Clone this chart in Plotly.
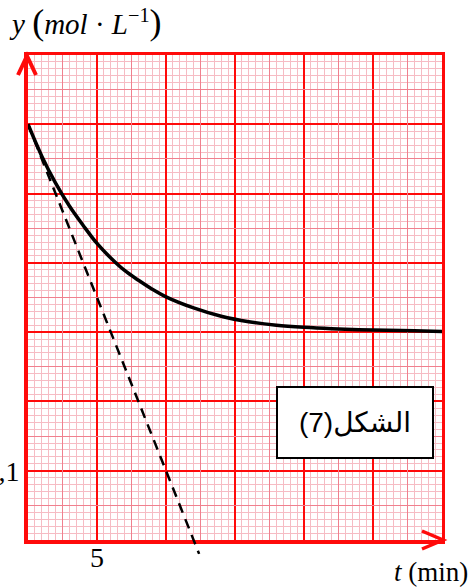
import plotly.graph_objects as go

# ---- data ----
t_curve = [0, 1, 2, 3, 4, 5, 6, 7, 8, 9, 10, 12, 14, 16, 18, 20, 22, 25, 28, 30]
y_curve = [0.600, 0.554, 0.515, 0.482, 0.454, 0.428, 0.407, 0.389, 0.375, 0.362,
           0.351, 0.335, 0.323, 0.315, 0.310, 0.307, 0.305, 0.303, 0.302, 0.301]
t_tangent = [0, 12.4]
y_tangent = [0.6, -0.02]

x_major = [0, 5, 10, 15, 20, 25, 30]
x_major_text = ["", "5", "", "", "", "", ""]
x_medium = [2.5, 7.5, 12.5, 17.5, 22.5, 27.5]
y_major = [0, 0.1, 0.2, 0.3, 0.4, 0.5, 0.6, 0.7]
y_major_text = ["", "0,1", "", "", "", "", "", ""]
y_medium = [0.05, 0.15, 0.25, 0.35, 0.45, 0.55, 0.65]

# ---- geometry ----
W, H = 471, 587
ML, MR, MT, MB = 28, 29, 55, 30
axis_bottom_px = 540
plot_h = H - MT - MB
y_dom0 = (H - MB - axis_bottom_px) / plot_h
y2_low = -0.7 * (H - MB - axis_bottom_px) / (axis_bottom_px - MT)

RED = "#ff0a0a"
MINOR = "#f6bcc4"
MEDIUM = "#f0808e"

def px(x):
    return (x - ML) / (W - ML - MR)

def py(y):
    return (H - MB - y) / plot_h

fig = go.Figure()

# empty trace so the medium-grid / border overlay axes exist
fig.add_trace(go.Scatter(x=[], y=[], mode="lines", xaxis="x3", yaxis="y3",
                         hoverinfo="skip", showlegend=False))
fig.add_trace(go.Scatter(x=t_curve, y=y_curve, mode="lines",
                         line=dict(color="black", width=3.5, shape="spline"),
                         xaxis="x", yaxis="y", hoverinfo="skip", showlegend=False))
fig.add_trace(go.Scatter(x=t_tangent, y=y_tangent, mode="lines",
                         line=dict(color="black", width=2.5, dash="10px,7px"),
                         xaxis="x2", yaxis="y2", hoverinfo="skip", showlegend=False))

serif = "Liberation Serif, Times New Roman, serif"

fig.update_layout(
    width=W, height=H,
    margin=dict(l=ML, r=MR, t=MT, b=MB, pad=0, autoexpand=False),
    paper_bgcolor="white", plot_bgcolor="rgba(0,0,0,0)",
    showlegend=False,
    xaxis=dict(range=[0, 30], domain=[0, 1], anchor="y", automargin=False,
               tickmode="array", tickvals=x_major, ticktext=x_major_text,
               ticks="", showgrid=True, gridcolor=RED, gridwidth=2,
               minor=dict(tick0=0, dtick=0.5, showgrid=True, gridcolor=MINOR, gridwidth=1, ticks=""),
               showline=True, linecolor=RED, linewidth=4, zeroline=False,
               ticklabelstandoff=-11,
               tickfont=dict(family=serif, size=28, color="black")),
    yaxis=dict(range=[0, 0.7], domain=[y_dom0, 1], anchor="x", automargin=False,
               tickmode="array", tickvals=y_major, ticktext=y_major_text,
               ticks="", showgrid=True, gridcolor=RED, gridwidth=2,
               minor=dict(tick0=0, dtick=0.01, showgrid=True, gridcolor=MINOR, gridwidth=1, ticks=""),
               showline=True, linecolor=RED, linewidth=4, zeroline=False,
               ticklabelstandoff=-1,
               tickfont=dict(family=serif, size=28, color="black")),
    xaxis2=dict(range=[0, 30], domain=[0, 1], anchor="y2", visible=False, automargin=False),
    yaxis2=dict(range=[y2_low, 0.7], domain=[0, 1], anchor="x2", visible=False, automargin=False),
    xaxis3=dict(range=[0, 30], overlaying="x", side="top", anchor="y3", automargin=False,
                tickmode="array", tickvals=x_medium, showticklabels=False, ticks="",
                showgrid=True, gridcolor=MEDIUM, gridwidth=1,
                showline=True, linecolor=RED, linewidth=2.5, zeroline=False),
    yaxis3=dict(range=[0, 0.7], overlaying="y", side="right", anchor="x3", automargin=False,
                tickmode="array", tickvals=y_medium, showticklabels=False, ticks="",
                showgrid=True, gridcolor=MEDIUM, gridwidth=1,
                showline=True, linecolor=RED, linewidth=2.5, zeroline=False),
)

# arrow heads (open chevrons)
fig.add_shape(type="path", xref="paper", yref="paper",
              path=f"M {px(18)},{py(75)} L {px(27)},{py(56)} L {px(36)},{py(75)}",
              line=dict(color=RED, width=4))
fig.add_shape(type="path", xref="paper", yref="paper",
              path=f"M {px(422)},{py(531)} L {px(443)},{py(540)} L {px(422)},{py(549)}",
              line=dict(color=RED, width=3.5))

# axis titles
big = '<span style="font-size:36px">{}</span>'
fig.add_annotation(xref="paper", yref="paper", x=px(7), y=py(22), xanchor="left", yanchor="middle",
                   text="<i>y</i> " + big.format("(") + "<i>mol</i> · <i>L</i><sup>−1</sup>" + big.format(")"),
                   showarrow=False,
                   font=dict(family=serif, size=29, color="black"))
fig.add_annotation(xref="paper", yref="paper", x=px(470), y=py(572), xanchor="right", yanchor="middle",
                   text="<i>t</i> (min)", showarrow=False,
                   font=dict(family=serif, size=27, color="black"))

# figure label box
fig.add_annotation(xref="paper", yref="paper", x=px(355), y=py(422), xanchor="center", yanchor="middle",
                   text="(7)الشكل", showarrow=False,
                   width=150, height=65, borderpad=2, borderwidth=2,
                   bordercolor="black", bgcolor="white",
                   font=dict(family="Liberation Sans, DejaVu Sans, sans-serif", size=28, color="black"))

fig.write_html("out.html", config={"displayModeBar": False},
               post_script="document.body.style.margin='0px';")
